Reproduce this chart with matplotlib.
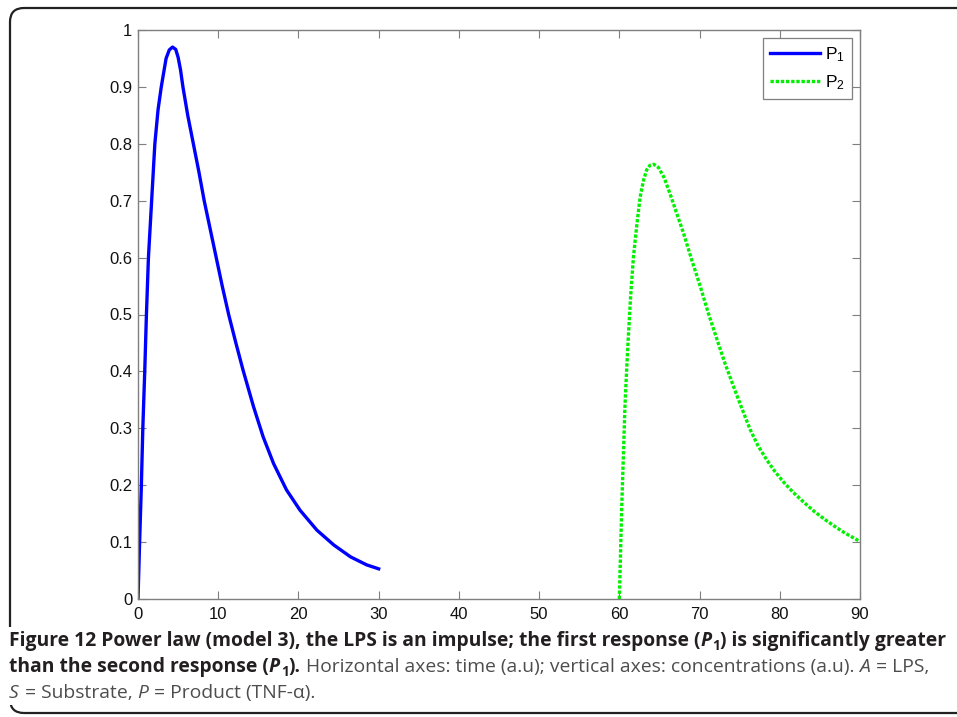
import numpy as np
import matplotlib
matplotlib.use('Agg')
from matplotlib import pyplot as plt
from matplotlib.patches import FancyBboxPatch, Rectangle
from matplotlib.transforms import IdentityTransform

# values
t_p1 = [0, 0.2, 0.42, 0.6, 0.84, 1.05, 1.3, 1.7, 2.1, 2.5, 2.9, 3.2, 3.5, 3.9,
        4.3, 4.7, 5.0, 5.3, 5.6, 6.2, 6.9, 7.6, 8.25, 9.0, 9.75, 10.5, 11.3, 12.2,
        13.1, 14.4, 15.6, 16.9, 18.5, 20.2, 22.3, 24.4, 26.5, 28.5, 30]
v_p1 = [0, 0.1, 0.2, 0.3, 0.4, 0.5, 0.6, 0.7, 0.8, 0.86, 0.9, 0.925, 0.95, 0.965,
        0.97, 0.966, 0.952, 0.93, 0.9, 0.85, 0.8, 0.75, 0.7, 0.65, 0.6, 0.55, 0.5,
        0.45, 0.402, 0.338, 0.285, 0.238, 0.192, 0.156, 0.121, 0.095, 0.074, 0.060,
        0.053]

t_p2 = [60, 60.3, 60.5, 60.7, 60.9, 61.1, 61.4, 61.75, 62.2, 62.6, 63.0, 63.4,
        63.8, 64.3, 64.9, 65.6, 66.3, 67.1, 68, 69, 70.1, 71.1, 72.2, 73.2, 74.25,
        75.3, 76.3, 77.3, 78.4, 79.4, 80.5, 81.7, 83, 84.2, 85.5, 86.7, 88, 89, 90]
v_p2 = [0, 0.162, 0.25, 0.338, 0.40, 0.455, 0.53, 0.60, 0.66, 0.707, 0.735, 0.754,
        0.762, 0.764, 0.758, 0.74, 0.713, 0.68, 0.643, 0.597, 0.549, 0.502, 0.455,
        0.413, 0.373, 0.334, 0.298, 0.269, 0.244, 0.224, 0.205, 0.187, 0.170, 0.155,
        0.141, 0.129, 0.117, 0.109, 0.101]

x_ticks = [0, 10, 20, 30, 40, 50, 60, 70, 80, 90]
y_ticks = [0, 0.1, 0.2, 0.3, 0.4, 0.5, 0.6, 0.7, 0.8, 0.9, 1]
y_labels = ['0', '0.1', '0.2', '0.3', '0.4', '0.5', '0.6', '0.7', '0.8', '0.9', '1']
labels = [r'$\mathrm{P}_{1}$', r'$\mathrm{P}_{2}$']

plt.rcParams['font.family'] = ['Liberation Sans', 'DejaVu Sans']
plt.rcParams['mathtext.fontset'] = 'custom'
plt.rcParams['mathtext.rm'] = 'Liberation Sans'
plt.rcParams['mathtext.it'] = 'Liberation Sans:italic'

W, H = 957, 717
fig = plt.figure(figsize=(W / 100, H / 100), dpi=100)
ax = fig.add_axes([138 / W, 1 - 599 / H, 722 / W, 569 / H])

ax.plot(t_p1, v_p1, color='#0000ff', lw=2.4, label=labels[0])
ax.plot(t_p2, v_p2, color='#00f000', lw=2.4, dashes=(1.0, 0.55), label=labels[1])

ax.set_xlim(0, 90)
ax.set_ylim(0, 1)
ax.set_xticks(x_ticks)
ax.set_yticks(y_ticks)
ax.set_yticklabels(y_labels)
ax.tick_params(direction='in', length=6, width=0.8, color='#7f7f7f',
               top=True, right=True, labelsize=12, labelcolor='#111111')
ax.tick_params(axis='x', pad=6)
ax.tick_params(axis='y', pad=4)
for s in ax.spines.values():
    s.set_color('#7f7f7f')
    s.set_linewidth(1.0)

leg = ax.legend(loc='upper right', bbox_to_anchor=((852 - 138) / 722, (599 - 38) / 569),
                borderaxespad=0, fontsize=12.5, handlelength=2.9, fancybox=False,
                framealpha=1, edgecolor='#7f7f7f', labelspacing=0.55,
                handletextpad=0.3, borderpad=0.4)
leg.get_frame().set_linewidth(0.9)

# rounded frame around figure + caption
box = FancyBboxPatch((10, 4), 1000, 705, boxstyle='round,pad=0,rounding_size=14',
                     transform=IdentityTransform(), fill=False, ec='#222222', lw=1.6)
fig.add_artist(box)
# caption sits on white, hiding the frame's left edge there
fig.add_artist(Rectangle((4, 12), 14, 78, transform=IdentityTransform(),
                         fc='white', ec='none'))

renderer = fig.canvas.get_renderer()
cap_size = 13.9
dark = '#231f20'
gray = '#4d4d4d'


def frag_width(txt, **kw):
    t = fig.text(0, 0, txt, **kw)
    w = t.get_window_extent(renderer).width
    t.remove()
    return w


def write_line(x_px, y_px, parts):
    x = x_px
    for p in parts:
        if p == ' ':
            x += frag_width('a a', fontsize=cap_size, family='Open Sans') - \
                 frag_width('aa', fontsize=cap_size, family='Open Sans')
            continue
        txt, weight, style, sub = p
        size = cap_size * 0.7 if sub else cap_size
        y = y_px + (4 if sub else 0)
        col = dark if weight == 'bold' else gray
        t = fig.text(x / W, 1 - y / H, txt, fontsize=size, fontweight=weight,
                     fontstyle=style, family='Open Sans', color=col,
                     ha='left', va='baseline')
        x += t.get_window_extent(renderer).width + (1 if style == 'italic' else 0)


write_line(9, 646, [('Figure 12 Power law (model 3), the LPS is an impulse; the first response (',
                     'bold', 'normal', False),
                    ('P', 'bold', 'italic', False), ('1', 'bold', 'normal', True),
                    (') is significantly greater', 'bold', 'normal', False)])
write_line(9, 672, [('than the second response (', 'bold', 'normal', False),
                    ('P', 'bold', 'italic', False), ('1', 'bold', 'normal', True),
                    (').', 'bold', 'normal', False), ' ',
                    ('Horizontal axes: time (a.u); vertical axes: concentrations (a.u).',
                     'normal', 'normal', False), ' ',
                    ('A', 'normal', 'italic', False), ' ',
                    ('= LPS,', 'normal', 'normal', False)])
write_line(9, 698, [('S', 'normal', 'italic', False), ' ',
                    ('= Substrate,', 'normal', 'normal', False), ' ',
                    ('P', 'normal', 'italic', False), ' ',
                    ('= Product (TNF-\u03b1).', 'normal', 'normal', False)])

fig.savefig('out.png', dpi=100)
